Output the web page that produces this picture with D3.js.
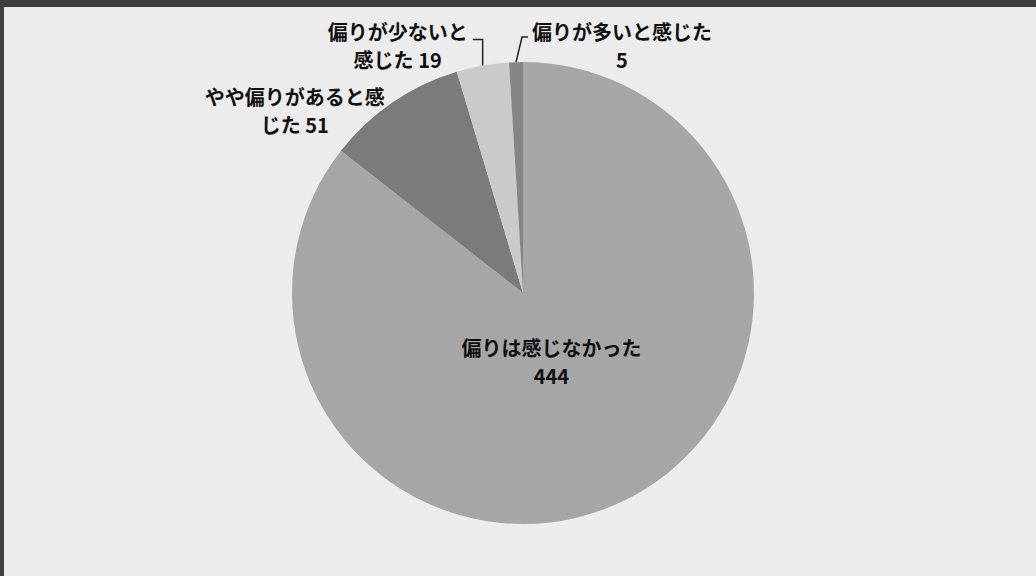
<!DOCTYPE html>
<html lang="ja">
<head>
<meta charset="utf-8">
<script src="https://cdn.jsdelivr.net/npm/d3@7"></script>
<style>
  html, body { margin: 0; padding: 0; background: #ececec; overflow: hidden; }
  svg { display: block; }
  text { font-family: "Noto Sans CJK JP", "Noto Sans", sans-serif; font-weight: 700; fill: #111; }
</style>
</head>
<body>
<svg id="chart" width="1036" height="576"></svg>
<script>
// Survey answers, drawn clockwise from 12 o'clock
const categories = ["偏りは感じなかった", "やや偏りがあると感じた", "偏りが少ないと感じた", "偏りが多いと感じた"];
const values = [444, 51, 19, 5];
// Character index where each data label wraps to its second line
const wrapAt = [9, 9, 7, 9];
const sliceColors = ["#a6a6a6", "#7b7b7b", "#cacaca", "#858585"];

const W = 1036, H = 576;
const cx = 523, cy = 293, R = 231;
const lineGap = 28;

const svg = d3.select("#chart");

// page background and scanned-frame edge
svg.append("rect").attr("width", W).attr("height", H).attr("fill", "#ececec");
svg.append("rect").attr("x", 0).attr("y", 0).attr("width", W).attr("height", 7).attr("fill", "#3e3e3e");
svg.append("rect").attr("x", 0).attr("y", 0).attr("width", 4).attr("height", H).attr("fill", "#3e3e3e");

const data = categories.map((c, i) => ({ name: c, value: values[i], i }));

const pie = d3.pie().value(d => d.value).sort(null);
const arcs = pie(data);
const arc = d3.arc().innerRadius(0).outerRadius(R);

const g = svg.append("g").attr("transform", `translate(${cx},${cy})`);

g.selectAll("path.slice")
  .data(arcs)
  .join("path")
  .attr("class", "slice")
  .attr("d", arc)
  .attr("fill", d => sliceColors[d.data.i]);

// point on the rim at a slice's middle angle
function rimPoint(d, r) {
  const a = (d.startAngle + d.endAngle) / 2;
  return [r * Math.sin(a), -r * Math.cos(a)];
}

// label placement: either inside (radius fraction) or offset from the rim point
const placement = [
  { inside: 0.3, dx: -2, dy: 6 },
  { dx: -98, dy: 8 },
  { dx: -85, dy: -20 },
  { dx: 106, dy: -17 }
];

const labels = svg.append("g").attr("transform", `translate(${cx},${cy})`);

arcs.forEach(d => {
  const i = d.data.i;
  const p = placement[i];
  let bx, by;
  if (p.inside) {
    const a = (d.startAngle + d.endAngle) / 2;
    bx = Math.sin(a) * R * p.inside + p.dx;
    by = -Math.cos(a) * R * p.inside + p.dy;
  } else {
    const [rx, ry] = rimPoint(d, R);
    bx = rx + p.dx;
    by = ry + p.dy;
  }
  const full = d.data.name;
  const line1 = full.slice(0, wrapAt[i]);
  const rest = full.slice(wrapAt[i]);
  const line2 = (rest ? rest + " " : "") + d.data.value;
  const t = labels.append("text")
    .attr("text-anchor", "middle")
    .attr("font-size", 20);
  t.append("tspan").attr("x", bx).attr("y", by - lineGap / 2).attr("dominant-baseline", "central").text(line1);
  t.append("tspan").attr("x", bx).attr("y", by + lineGap / 2).attr("dominant-baseline", "central").text(line2);
});

// leader lines for the two narrow slices
const leader = d3.line();
const s19 = arcs[2], s5 = arcs[3];
const p19 = rimPoint(s19, R);
const p5 = rimPoint(s5, R);
labels.append("path")
  .attr("d", leader([p19, [p19[0], p19[1] - 26], [p19[0] - 10, p19[1] - 26]]))
  .attr("fill", "none").attr("stroke", "#222").attr("stroke-width", 1.5);
labels.append("path")
  .attr("d", leader([p5, [p5[0] + 6, p5[1] - 25], [p5[0] + 12, p5[1] - 25]]))
  .attr("fill", "none").attr("stroke", "#222").attr("stroke-width", 1.5);
</script>
</body>
</html>
